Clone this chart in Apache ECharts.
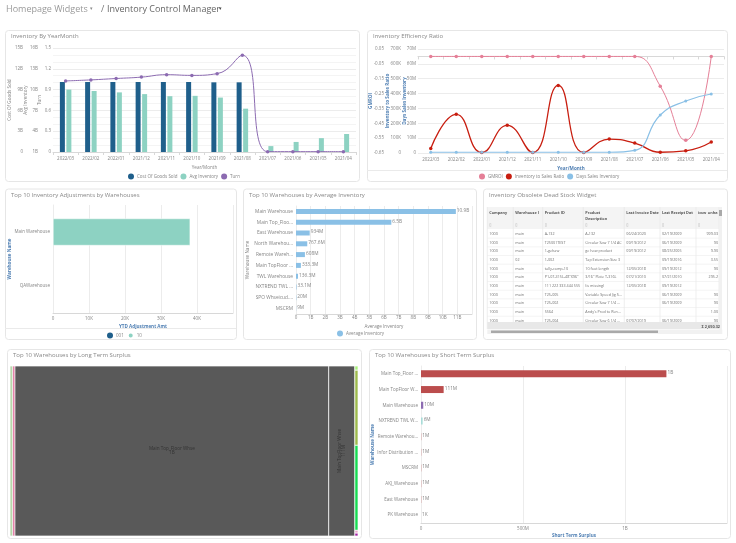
<!DOCTYPE html>
<html><head><meta charset="utf-8">
<style>html,body{margin:0;padding:0;background:#fff}#c{width:736px;height:543px}</style>
<script src="https://cdn.jsdelivr.net/npm/echarts@6/dist/echarts.min.js"></script>
</head><body><div id="c"></div>
<script>
// ---- data ----
const months = ['2022/03','2022/02','2022/01','2021/12','2021/11','2021/10','2021/09','2021/08','2021/07','2021/06','2021/05','2021/04'];
const cogs = [10.1,10.1,10.1,10.1,10.1,10.1,10.05,10.05,null,null,null,null];
const avgInventory = [10.0,9.8,9.6,9.35,9.05,9.1,8.85,7.25,1.85,2.45,3.0,3.6];
const turn = [1.025,1.04,1.06,1.08,1.115,1.105,1.13,1.395,0.005,0.005,0.005,0.005];
const gmroi = [0,0,0,0,0,0,0,0,0,-0.2,-0.565,0];
const invToSales = [31000,260000,3000,186000,3000,455000,3000,94000,67000,5000,15000,74000];
const daysSales = [500000,500000,500000,500000,500000,500000,500000,500000,1800000,25600000,35000000,39700000];
const adjWarehouses = ['Main Warehouse','QAWarehouse'];
const adj001 = [null,null];
const adj10 = [38100,null];
const avgWarehouses = ['Main Warehouse','Main Top_Floo...','East Warehouse','North Warehou...','Remote Wareh...','Main TopFloor ...','TWL Warehouse','NXTREND TWL ...','SPO Whseicud....','MSCRM'];
const avgValues = [10.9e9,6.5e9,934e6,767.6e6,608e6,333.3e6,136.3e6,33.1e6,20e6,9e6];
const avgLabels = ['10.9B','6.5B','934M','767.6M','608M','333.3M','136.3M','33.1M','20M','9M'];
const shortWarehouses = ['Main Top_Floor ...','Main TopFloor W...','Main Warehouse','NXTREND TWL W...','Remote Warehou...','Infor Distribution ...','MSCRM','AKJ_Warehouse','East Warehouse','PK Warehouse'];
const shortValues = [1203e6,111e6,11e6,8e6,1e6,1e6,1e6,1e6,1e6,1e3];
const shortLabels = ['1B','111M','10M','6M','1M','1M','1M','1M','1M','1K'];
const longNames = ['East Warehouse','Main Warehouse','Main Top_Floor Whse','Main TopFloor Whse','NXTREND TWL Whse','Remote Warehouse','MSCRM','AKJ_Warehouse','PK Warehouse'];
const longValues = [11e6,8e6,1200e6,100e6,0.3e6,5.3e6,6e6,0.2e6,0.2e6];
const longLabels = ['','','1B','111M','','','','',''];
const longColumn = [0,1,2,3,4,4,4,4,4];
const tableHeaders = ['Company','Warehouse ID','Product ID','Product\nDescription','Last Invoice Date','Last Receipt Date','icsw_onha'];
const tableRows = [
 ['1000','main','A-132','A-132','06/24/2020','02/19/2009','999.03'],
 ['1000','main','T25001TEST','Circular Saw 7 1/4 AC','09/19/2012','06/19/2009','90'],
 ['1000','main','1-gehaw','ge haw product','09/19/2012','08/25/2005','9.90'],
 ['1000','02','1-002','Tap Extension Size 3','','09/19/2016','3.55'],
 ['1000','main','tally-comp-10','10 foot length','12/05/2018','09/19/2012','90'],
 ['1000','main','P1-07-315L-48"X96"','3/16" Plate T-316L','07/21/2010','07/21/2010','295.2'],
 ['1000','main','111 222 333 444 555','(is missing)','12/05/2018','09/19/2012',''],
 ['1000','main','T25-005','Variable Speed Jig S...','','06/19/2009','90'],
 ['1000','main','T25-002','Circular Saw 7 1/4 ...','','06/19/2009','90'],
 ['1000','main','5564','Andy\'s Prod to Ren...','','','1.00'],
 ['1000','main','T25-004','Circular Saw 6 1/4 ...','07/07/2019','06/19/2009','90']
];
const tableTotal = '2,650.32';

// ---- style ----
const FONT = '"Open Sans", sans-serif';
const C = {grey:'#7f7f7f', text:'#858585', line:'#ececec', axis:'#d8d8d8', navy:'#1f5f8b', teal:'#8dd2c2', purple:'#8c6bb1',
  pink:'#e57f97', red:'#c81e10', sky:'#8ac0e6', brick:'#bb4d4d', blue:'#4f7fb3'};
const fs = 4.5;
const grids=[], xAxes=[], yAxes=[], series=[], legends=[], titles=[], gfx=[];
const compact = v => v===0?'0':(Math.abs(v)>=1e9?(v/1e9)+'B':Math.abs(v)>=1e6?(v/1e6)+'M':Math.abs(v)>=1e3?(v/1e3)+'K':v);
const bName = {fontFamily:FONT,fontSize:4.6,fontWeight:'bold',color:C.blue};
const gName = {fontFamily:FONT,fontSize:4.6,color:'#858585'};
const lab = extra => Object.assign({fontFamily:FONT,fontSize:fs,color:C.text},extra||{});

function card(x,y,w,h,title){
  gfx.push({type:'rect',z:-10,shape:{x:x+.5,y:y+.5,width:w,height:h,r:3},style:{fill:'#fff',stroke:'#e6e6e6',lineWidth:1}});
  titles.push({text:title,left:x+6,top:y+3.5,padding:0,textStyle:{fontFamily:FONT,fontSize:6,fontWeight:'normal',color:'#888'}});
}
function hline(x1,x2,y){gfx.push({type:'line',z:-5,shape:{x1,y1:y,x2,y2:y},style:{stroke:'#eaeaea',lineWidth:1}});}
function addGrid(l,t,r,b){grids.push({left:l,top:t,width:r-l,height:b-t,containLabel:false});return grids.length-1;}
function legend(left,top,names){legends.push({left,top,data:names,icon:'circle',itemWidth:6,itemHeight:6,itemGap:3,padding:0,selectedMode:false,textStyle:{fontFamily:FONT,fontSize:fs,color:C.text,padding:[0,0,0,-2]}});}

function monthAxis(g,nameText,nameStyle,nameGap){
  xAxes.push({gridIndex:g,type:'category',data:months,name:nameText,nameLocation:'middle',nameGap,nameMoveOverlap:false,nameTextStyle:nameStyle,
    axisLine:{lineStyle:{color:C.axis}},axisTick:{show:true,length:3,alignWithLabel:false,lineStyle:{color:C.axis}},axisLabel:lab({margin:4,interval:0}),splitLine:{show:false}});
  return xAxes.length-1;
}
function valAxis(g,min,max,interval,fmt,offset,nameText,nameGap,nameStyle,split){
  yAxes.push({gridIndex:g,type:'value',min,max,interval,position:'left',offset,name:nameText,nameLocation:'middle',nameGap,nameMoveOverlap:false,nameTextStyle:nameStyle,
    axisLine:{show:false},axisTick:{show:false},axisLabel:lab({margin:2,formatter:fmt}),
    splitLine:{show:!!split,lineStyle:{color:C.line,width:1}},
    minorTick:{show:false,splitNumber:3},minorSplitLine:{show:!!split,lineStyle:{color:'#f4f4f4',width:1}}});
  return yAxes.length-1;
}

// ---- page header ----
gfx.push({type:'text',z:5,x:6,y:9,style:{text:'Homepage Widgets',font:'9px '+FONT,fill:'#9a9a9a',verticalAlign:'middle'}});
gfx.push({type:'text',z:5,x:90,y:9,style:{text:'▾',font:'5px DejaVu Sans',fill:'#8a8a8a',verticalAlign:'middle'}});
gfx.push({type:'text',z:5,x:101,y:9,style:{text:'/',font:'9px '+FONT,fill:'#777',verticalAlign:'middle'}});
gfx.push({type:'text',z:5,x:107,y:9,style:{text:'Inventory Control Manager',font:'9px '+FONT,fill:'#666',verticalAlign:'middle'}});
gfx.push({type:'text',z:5,x:219,y:9,style:{text:'▾',font:'5px DejaVu Sans',fill:'#444',verticalAlign:'middle'}});

// ---- Inventory By YearMonth ----
card(5,30,354,151,'Inventory By YearMonth');
{
  const g=addGrid(53,48,356,152);
  const x=monthAxis(g,'Year/Month',gName,13.5);
  const y1=valAxis(g,0,15,3,v=>v===0?'0':v+'B',28,'Cost Of Goods Sold',13,gName,false);
  const y2=valAxis(g,1,16,3,v=>v+'B',13,'Avg Inventory',12,gName,false);
  const y3=valAxis(g,0,1.5,0.3,v=>v===0?'0':v.toFixed(1),0,'Turn',11,gName,true);
  series.push({name:'Cost Of Goods Sold',type:'bar',xAxisIndex:x,yAxisIndex:y1,data:cogs,barWidth:5,barGap:'30%',itemStyle:{color:C.navy}});
  series.push({name:'Avg Inventory',type:'bar',xAxisIndex:x,yAxisIndex:y2,data:avgInventory,barWidth:5,barGap:'30%',itemStyle:{color:C.teal}});
  series.push({name:'Turn',type:'line',xAxisIndex:x,yAxisIndex:y3,data:turn,smooth:true,symbol:'circle',symbolSize:3.5,itemStyle:{color:C.purple},lineStyle:{color:C.purple,width:1}});
  legend(128,173.5,['Cost Of Goods Sold','Avg Inventory','Turn']);
}

// ---- Inventory Efficiency Ratio ----
card(367,30,360,151,'Inventory Efficiency Ratio');
hline(367,727,170.5);
{
  const g=addGrid(418,49,724,153);
  const x=monthAxis(g,'Year/Month',bName,13);
  const y1=valAxis(g,-0.65,0.05,0.1,v=>v.toFixed(2),32,'GMROI',13,bName,false);
  const y2=valAxis(g,0,700000,100000,compact,15,'Inventory to Sales Ratio',13,bName,false);
  const y3=valAxis(g,0,70000000,10000000,compact,0,'Days Sales Inventory',11,bName,true);
  yAxes[y3].minorSplitLine.show=false;
  series.push({name:'GMROI',type:'line',xAxisIndex:x,yAxisIndex:y1,data:gmroi,smooth:true,symbol:'circle',symbolSize:3.5,itemStyle:{color:C.pink},lineStyle:{color:C.pink,width:1}});
  series.push({name:'Inventory to Sales Ratio',type:'line',xAxisIndex:x,yAxisIndex:y2,data:invToSales,smooth:true,symbol:'circle',symbolSize:3.5,itemStyle:{color:C.red},lineStyle:{color:C.red,width:1.3}});
  series.push({name:'Days Sales Inventory',type:'line',xAxisIndex:x,yAxisIndex:y3,data:daysSales,smooth:true,symbol:'circle',symbolSize:3,itemStyle:{color:C.sky},lineStyle:{color:C.sky,width:1.2}});
  legend(479,173.5,['GMROI','Inventory to Sales Ratio','Days Sales Inventory']);
}

function hBarAxes(g,cats,max,interval,fmt,nameX,nameXStyle,nameXGap,nameY,nameYStyle,nameYGap,catPad){
  xAxes.push({gridIndex:g,type:'value',min:0,max,interval,name:nameX,nameLocation:'middle',nameGap:nameXGap,nameMoveOverlap:false,nameTextStyle:nameXStyle,
    axisLine:{show:true,lineStyle:{color:C.axis}},axisTick:{show:false},axisLabel:lab({margin:3,formatter:fmt,showMaxLabel:false}),splitLine:{show:true,lineStyle:{color:C.line}}});
  yAxes.push({gridIndex:g,type:'category',data:cats,inverse:true,name:nameY,nameLocation:'middle',nameGap:nameYGap,nameMoveOverlap:false,nameTextStyle:nameYStyle,
    axisLine:{show:true,lineStyle:{color:C.line}},axisTick:{show:false},axisLabel:lab({margin:3,interval:0,padding:[catPad,0,0,0]})});
  return [xAxes.length-1,yAxes.length-1];
}

// ---- Adjustments ----
card(5,188.5,231,150.5,'Top 10 Inventory Adjustments by Warehouses');
hline(5,236,328.5);
{
  const g=addGrid(53,205,233,313);
  const [x,y]=hBarAxes(g,adjWarehouses,50000,10000,compact,'YTD Adjustment Amt',bName,11,'Warehouse Name',bName,41,0);
  series.push({name:'001',type:'bar',xAxisIndex:x,yAxisIndex:y,data:adj001,stack:'a',itemStyle:{color:C.navy}});
  series.push({name:'10',type:'bar',xAxisIndex:x,yAxisIndex:y,data:adj10,stack:'a',barWidth:27,itemStyle:{color:C.teal,borderColor:'#fff',borderWidth:.5}});
  legend(107,331.5,['001','10']);
}

// ---- Average Inventory ----
card(243,188.5,233,150.5,'Top 10 Warehouses by Average Inventory');
{
  const g=addGrid(296,206,472,314);
  const [x,y]=hBarAxes(g,avgWarehouses,12e9,1e9,compact,'Average Inventory',gName,10,'Warehouse Name',gName,46,3);
  yAxes[y].axisLabel.fontSize=4.8;
  xAxes[x].axisLabel.margin=1.5;
  series.push({name:'Average Inventory',type:'bar',xAxisIndex:x,yAxisIndex:y,data:avgValues,barWidth:5,itemStyle:{color:C.sky},
    label:{show:true,position:'right',distance:1,fontFamily:FONT,fontSize:4.8,color:C.text,offset:[0,-1],formatter:p=>avgLabels[p.dataIndex]}});
  legend(337,330.5,['Average Inventory']);
}

// ---- Table ----
card(483,188.5,244,150.5,'Inventory Obsolete Dead Stock Widget');
{
  const edges=[487.3,513.3,542.7,583.3,624.3,660,696,719];
  const top=207, headB=229, rowH=8.67, rowsTop=229.5, footT=322, footB=329;
  const R=(x,y,w,h,fill,z)=>gfx.push({type:'rect',z:z||2,shape:{x,y,width:w,height:h},style:{fill}});
  R(edges[0],top,edges[7]-edges[0],headB-top,'#f4f4f4');
  tableRows.forEach((row,i)=>{
    const cy=rowsTop+rowH*(i+.5);
    if(cy<footT) gfx.push({type:'line',z:2,shape:{x1:edges[0],y1:rowsTop+rowH*(i+1),x2:edges[7],y2:rowsTop+rowH*(i+1)},style:{stroke:'#efefef',lineWidth:.7}});
    row.forEach((t,j)=>{
      if(!t) return;
      const right=j===6;
      gfx.push({type:'text',z:3,x:right?edges[7]-1:edges[j]+2,y:cy,style:{text:t,font:'3.7px '+FONT,fill:'#6f6f6f',verticalAlign:'middle',align:right?'right':'left',
        width:edges[j+1]-edges[j]-2,overflow:'truncate',ellipsis:''}});
    });
  });
  edges.forEach(e=>gfx.push({type:'line',z:3,shape:{x1:e,y1:top,x2:e,y2:footB},style:{stroke:'#e8e8e8',lineWidth:.7}}));
  tableHeaders.forEach((t,j)=>{
    gfx.push({type:'text',z:3,x:edges[j]+2,y:top+3,style:{text:t,font:'bold 3.8px '+FONT,fill:'#555',lineHeight:6,verticalAlign:'top',width:edges[j+1]-edges[j]-2,overflow:t.includes('\n')?'none':'truncate',ellipsis:''}});
    gfx.push({type:'text',z:3,x:edges[j]+2,y:top+17.5,style:{text:'▯',font:'4px DejaVu Sans',fill:'#aaa',verticalAlign:'middle'}});
  });
  R(edges[0],footT,edges[7]-edges[0],footB-footT,'#e8e8e8',4);
  gfx.push({type:'text',z:5,x:720,y:326.5,style:{text:'Σ '+tableTotal,font:'bold 3.8px '+FONT,fill:'#555',align:'right',verticalAlign:'middle'}});
  R(edges[0],329.5,235,4.5,'#f1f1f1',4);
  R(491,330.5,167,2.6,'#a9a9a9',5);
  R(719,207,3,127,'#f1f1f1',4);
  R(719,210,3,6,'#a9a9a9',5);
}

// ---- Long Term Surplus (cell sizes from the values) ----
card(7,349,354,189,'Top 10 Warehouses by Long Term Surplus');
{
  const g=addGrid(10,366,358,536);
  const colTotals=[];
  longValues.forEach((v,i)=>{colTotals[longColumn[i]]=(colTotals[longColumn[i]]||0)+v;});
  const total=colTotals.reduce((a,b)=>a+b,0);
  const cellColors=['#b7d7ab','#d9588b','#595959','#595959','#a9f27a','#9dba4c','#16dc52','#eea6cd','#a424a6'];
  xAxes.push({gridIndex:g,type:'value',min:0,max:total,show:false,splitLine:{show:false}});
  yAxes.push({gridIndex:g,type:'value',min:0,max:1,inverse:true,show:false,splitLine:{show:false}});
  const xi=xAxes.length-1, yi=yAxes.length-1;
  series.push({name:'Long Term Surplus',type:'custom',xAxisIndex:xi,yAxisIndex:yi,
    data:longValues.map((v,i)=>[i,v]),encode:{x:1},clip:false,
    renderItem:(params,api)=>{
      const i=params.dataIndex, col=longColumn[i];
      let x0=0; for(let c=0;c<col;c++) x0+=colTotals[c];
      let y0=0; for(let k=0;k<i;k++) if(longColumn[k]===col) y0+=longValues[k];
      const p0=api.coord([x0,y0/colTotals[col]]);
      const p1=api.coord([x0+colTotals[col],(y0+longValues[i])/colTotals[col]]);
      const w=p1[0]-p0[0], h=p1[1]-p0[1];
      const kids=[{type:'rect',shape:{x:p0[0],y:p0[1],width:w,height:h},style:{fill:cellColors[i],stroke:'#fff',lineWidth:.7}}];
      if(longLabels[i]){
        const cx=p0[0]+w/2, cy=p0[1]+h/2;
        const t=longNames[i]+'\n'+longLabels[i];
        kids.push({type:'text',x:cx,y:cy,rotation:w<60?Math.PI/2:0,originX:0,originY:0,
          style:{text:t,font:'4.6px '+FONT,fill:'#333',align:'center',verticalAlign:'middle',lineHeight:4}});
      }
      return {type:'group',children:kids};
    }});
}

// ---- Short Term Surplus ----
card(369,349,361,189,'Top 10 Warehouses by Short Term Surplus');
{
  const g=addGrid(421,366,727,523);
  const [x,y]=hBarAxes(g,shortWarehouses,1.5e9,5e8,compact,'Short Term Surplus',bName,10,'Warehouse Name',bName,46,3);
  const barColors=[C.brick,C.brick,C.purple,'#a8dcd8',C.brick,C.brick,C.brick,C.brick,C.brick,C.brick];
  series.push({name:'Short Term Surplus',type:'bar',xAxisIndex:x,yAxisIndex:y,data:shortValues,barWidth:7,
    itemStyle:{color:p=>barColors[p.dataIndex]},
    label:{show:true,position:'right',distance:1,fontFamily:FONT,fontSize:4.8,color:C.text,offset:[0,-1],formatter:p=>shortLabels[p.dataIndex]}});
}

const chart=echarts.init(document.getElementById('c'),null,{renderer:'canvas',width:736,height:543});
chart.setOption({animation:false,textStyle:{fontFamily:FONT},tooltip:{show:false},title:titles,legend:legends,grid:grids,xAxis:xAxes,yAxis:yAxes,series,graphic:{elements:gfx}});
</script></body></html>
